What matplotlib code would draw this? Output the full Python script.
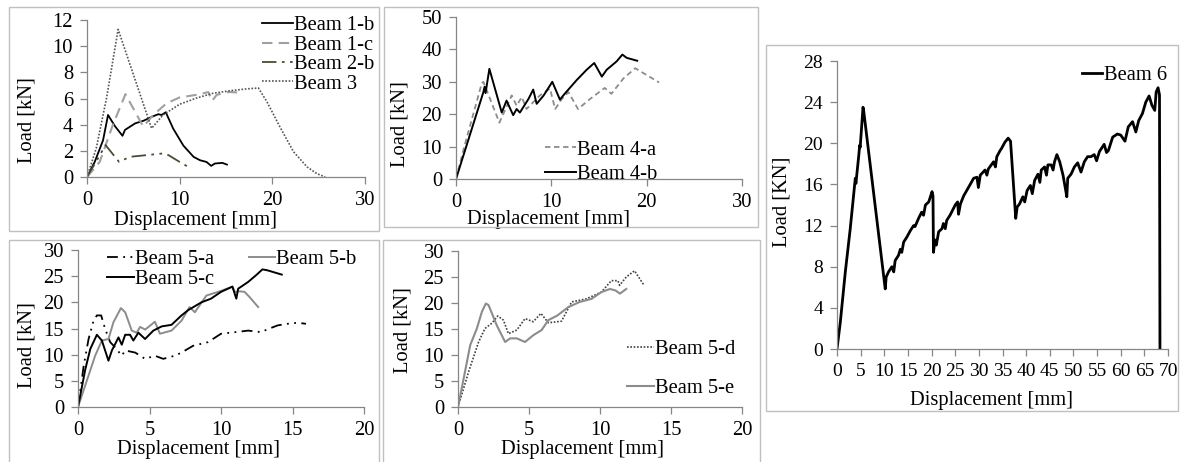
import numpy as np
import matplotlib
matplotlib.use("Agg")
import matplotlib.pyplot as plt
from matplotlib.patches import Rectangle

plt.rcParams['font.family'] = ['Liberation Serif', 'DejaVu Serif']

W, H = 1182, 462
FS = 14.8
SPINE = '#868686'

# ---------------- data ----------------
# panel 1
b1b_x = [0, 0.83, 1.73, 2.27, 3.0, 3.83, 4.1, 5.2, 6.1, 7.0, 7.7, 8.05, 8.5, 9.3, 10.4, 11.5, 12.2, 12.9, 13.4, 13.8, 14.6, 15.1]
b1b_y = [0, 1.15, 2.8, 4.74, 3.9, 3.15, 3.6, 4.1, 4.3, 4.6, 4.8, 4.74, 4.95, 3.7, 2.4, 1.54, 1.28, 1.15, 0.85, 1.03, 1.08, 0.95]
b1c_x = [0, 1.37, 2.8, 4.15, 6.07, 7.15, 8.6, 10.0, 11.8, 13.1, 13.5, 14.0, 15.3, 16.5]
b1c_y = [0, 1.15, 4.0, 6.33, 3.85, 4.74, 5.64, 6.08, 6.28, 6.49, 5.82, 6.28, 6.5, 6.45]
b2b_x = [0, 1.0, 2.0, 3.47, 4.6, 6.4, 8.2, 8.8, 10.0, 11.1]
b2b_y = [0, 1.2, 2.44, 1.15, 1.54, 1.67, 1.8, 1.67, 1.15, 0.7]
b3_x = [0, 1.0, 2.1, 3.36, 6.97, 8.2, 10.0, 11.8, 13.6, 15.5, 17.3, 18.5, 19.4, 20.9, 22.3, 23.75, 24.8, 25.7]
b3_y = [0, 2.2, 6.0, 11.28, 3.72, 4.74, 5.56, 6.03, 6.4, 6.6, 6.74, 6.8, 5.77, 3.72, 1.92, 0.77, 0.26, 0.0]

# panel 2
b4a_x = [0, 0.77, 2.7, 2.87, 4.55, 5.84, 6.36, 6.9, 7.4, 8.8, 9.86, 10.4, 11.1, 11.8, 12.8, 14.06, 15.6, 16.3, 17.55, 18.8, 21.3]
b4a_y = [0, 8.9, 29.5, 30, 17.4, 25.8, 22.6, 25.3, 21.6, 25.8, 27.9, 21.6, 24.7, 26.8, 21.6, 24.7, 28.1, 26.3, 31.0, 34.2, 29.8]
b4b_x = [0, 2.87, 3.0, 3.1, 3.5, 4.8, 5.3, 6.0, 6.36, 6.7, 7.6, 8.1, 8.46, 9.2, 10.1, 10.9, 11.4, 12.65, 13.7, 14.5, 15.3, 15.8, 16.85, 17.45, 17.9, 19.0]
b4b_y = [0, 26.8, 28.5, 26.5, 34.0, 20.5, 24.2, 19.7, 21.6, 20.5, 24.7, 27.6, 23.2, 25.8, 30.0, 24.5, 26.3, 30.5, 33.7, 35.8, 31.6, 33.7, 36.3, 38.4, 37.4, 36.5]

# panel 3
b5a_x = [0, 0.4, 0.74, 1.09, 1.32, 1.62, 1.9, 2.25, 2.6, 3.06, 3.3, 4.0, 4.69, 5.38, 5.96, 6.77, 7.24, 8.05, 9.1, 10.0, 11.0, 11.9, 12.8, 13.3, 13.97, 14.66, 15.36, 15.94]
b5a_y = [0, 7.9, 13.0, 16.5, 17.5, 17.5, 14.9, 12.4, 11.4, 9.8, 10.8, 10.4, 9.2, 9.8, 9.2, 9.8, 10.4, 11.7, 12.4, 14.0, 14.3, 14.6, 14.3, 14.9, 15.6, 15.9, 16.1, 15.9]
b5b_x = [0, 1.2, 1.67, 2.13, 2.48, 3.0, 3.3, 3.76, 4.1, 4.34, 4.7, 5.38, 5.73, 6.54, 7.24, 7.8, 8.17, 8.98, 9.8, 10.8, 10.95, 11.3, 11.65, 12.0, 12.6]
b5b_y = [0, 9.8, 12.7, 13.0, 16.2, 18.9, 18.1, 14.6, 14.2, 15.3, 14.8, 16.3, 14.0, 14.6, 16.5, 19.1, 18.1, 21.3, 22.0, 23.0, 22.0, 22.1, 22.0, 21.0, 19.1]
b5c_x = [0, 0.51, 0.86, 1.32, 1.67, 2.13, 2.37, 2.83, 3.06, 3.3, 3.64, 3.87, 4.22, 4.69, 5.27, 5.85, 6.54, 7.24, 7.7, 8.63, 9.3, 10.0, 10.8, 11.07, 11.2, 11.9, 12.46, 12.9, 13.27, 14.25]
b5c_y = [0, 7.2, 11.1, 13.8, 12.7, 8.85, 10.8, 13.3, 11.9, 13.8, 13.8, 12.7, 14.2, 13.0, 14.6, 15.4, 15.7, 17.5, 18.5, 20.0, 20.7, 22.0, 23.0, 20.7, 22.6, 23.9, 25.2, 26.3, 26.1, 25.3]

# panel 4
b5d_x = [0, 0.75, 1.45, 1.9, 2.38, 2.8, 3.2, 3.55, 4.14, 4.72, 5.3, 5.84, 6.36, 7.29, 8.0, 9.04, 10.1, 10.8, 11.26, 11.38, 11.85, 12.43, 13.1]
b5d_y = [0, 6.8, 12.5, 15.1, 16.1, 17.5, 16.7, 14.1, 14.8, 17.0, 16.4, 18.0, 16.2, 16.5, 20.2, 20.8, 22.1, 24.3, 24.3, 23.4, 25.0, 26.2, 23.4]
b5e_x = [0, 0.4, 0.86, 1.33, 1.68, 1.96, 2.15, 2.73, 3.32, 3.67, 4.14, 4.72, 5.3, 5.89, 6.36, 7.0, 7.76, 8.57, 9.4, 10.1, 10.7, 11.1, 11.4, 11.85]
b5e_y = [0, 5.5, 11.9, 15.1, 18.3, 19.9, 19.6, 15.7, 12.5, 13.2, 13.2, 12.5, 13.8, 14.8, 16.7, 17.6, 19.2, 20.2, 20.8, 22.1, 22.7, 22.4, 21.8, 22.7]

# panel 5
b6_x = [0, 0.7, 1.76, 2.8, 3.5, 3.87, 4.0, 4.6, 4.8, 4.9, 5.5, 5.63, 10.2, 10.4, 10.9, 11.6, 12.0, 12.3, 13.0, 13.4, 13.7, 14.1,
        14.8, 15.5, 16.2, 16.5, 17.25, 17.9, 18.3, 18.7, 19.4, 20.1, 20.3, 20.4, 20.7, 21.0, 21.5, 22.2, 22.5, 22.9, 23.2,
        23.9, 25.0, 25.5, 25.7, 26.1, 26.8, 27.8, 28.9, 29.6, 29.9, 30.3, 31.3, 31.7, 32.0, 33.1, 33.5, 33.8, 34.5,
        34.8, 35.5, 36.2, 36.7, 37.8, 38.1, 38.6, 39.3, 39.7, 40.2, 40.9, 41.3, 41.8, 42.5, 42.9, 43.2, 43.9, 44.3, 44.6,
        45.3, 45.7, 46.0, 46.5, 47.1, 47.8, 48.3, 48.6, 48.8, 49.5, 50.2, 50.9, 51.6, 52.3, 53.0, 53.7, 54.4, 54.9, 55.5,
        56.5, 57.0, 57.4, 58.3, 59.3, 60.0, 60.9, 61.6, 62.5, 63.2, 63.8, 64.6, 65.3, 66.0, 66.6, 67.2, 67.5, 67.9, 68.2, 68.3]
b6_y = [0, 2.6, 7.5, 11.7, 14.9, 16.6, 16.1, 18.8, 19.8, 19.6, 23.5, 23.2, 5.84, 7.0, 7.5, 8.0, 7.5, 8.6, 9.1, 9.7, 9.4, 10.4,
        10.9, 11.5, 12.0, 11.9, 12.7, 13.3, 13.0, 14.0, 14.3, 15.3, 14.9, 9.4, 10.6, 10.1, 11.4, 11.7, 12.2, 11.7, 12.5,
        13.0, 14.0, 14.3, 13.1, 14.1, 14.9, 15.7, 16.6, 16.7, 15.7, 16.9, 17.4, 16.9, 17.5, 18.2, 17.7, 18.7, 19.3,
        19.5, 20.1, 20.5, 20.2, 12.7, 13.8, 14.1, 14.8, 14.3, 15.4, 15.9, 15.1, 16.4, 17.0, 16.2, 17.4, 17.7, 16.9, 17.9,
        17.9, 17.4, 18.2, 18.9, 18.2, 16.9, 15.6, 14.8, 16.6, 17.0, 17.7, 18.1, 17.2, 18.2, 18.7, 18.7, 18.9, 18.3, 19.2,
        19.9, 19.1, 19.3, 20.6, 20.9, 20.8, 20.2, 21.6, 22.1, 21.1, 22.2, 22.9, 24.0, 24.6, 23.7, 23.2, 25.0, 25.4, 24.7, 0.0]


def px_axes(l, r, t, b):
    return [l / W, 1 - b / H, (r - l) / W, (b - t) / H]


def frame(fig, l, r, t, b):
    fig.add_artist(Rectangle((l / W, 1 - b / H), (r - l) / W, (b - t) / H,
                             transform=fig.transFigure, fill=False,
                             edgecolor='#c0c0c0', linewidth=1.0))


def style(ax, xmax, xstep, ymax, ystep, ylabel, xl, yl, tfs=FS):
    ax.set_xlim(0, xmax)
    ax.set_ylim(0, ymax)
    ax.set_xticks(np.arange(0, xmax + 0.01, xstep))
    ax.set_yticks(np.arange(0, ymax + 0.01, ystep))
    for s in ['top', 'right']:
        ax.spines[s].set_visible(False)
    for s in ['left', 'bottom']:
        ax.spines[s].set_color(SPINE)
        ax.spines[s].set_linewidth(0.9)
    ax.tick_params(direction='out', length=5, width=0.9, color=SPINE,
                   labelsize=tfs, pad=5)
    ax.set_xlabel('Displacement [mm]', fontsize=FS)
    ax.set_ylabel(ylabel, fontsize=FS)
    ax.xaxis.set_label_coords(*xl)
    ax.yaxis.set_label_coords(*yl)
    ax.xaxis.label.set_va('center')
    ax.yaxis.label.set_va('center')
    ax.yaxis.label.set_ha('center')


fig = plt.figure(figsize=(W / 100, H / 100), dpi=100)

frame(fig, 9, 379, 7, 231)
frame(fig, 384, 758, 7, 227)
frame(fig, 9, 379, 240, 466)
frame(fig, 383, 760, 240, 466)
frame(fig, 766, 1178, 45, 411)

leg_kw = dict(frameon=False, fontsize=FS, borderpad=0, borderaxespad=0,
              handletextpad=0.05, loc='upper left')

# ---- panel 1 ----
ax1 = fig.add_axes(px_axes(87, 365, 20, 177))
ax1.plot(b1b_x, b1b_y, color='black', lw=1.3, label='Beam 1-b')
ax1.plot(b1c_x, b1c_y, color='#a0a0a0', lw=1.5, dashes=(5, 3), label='Beam 1-c')
ax1.plot(b2b_x, b2b_y, color='#4b4b35', lw=1.3, dashes=(8, 3, 1.5, 3, 1.5, 3), label='Beam 2-b')
ax1.plot(b3_x, b3_y, color='#555555', lw=1.2, dashes=(1, 1), label='Beam 3')
style(ax1, 30, 10, 12, 2, 'Load [kN]', (0.39, -0.28), (-0.216, 0.363))
ax1.legend(bbox_to_anchor=(0.63, 1.025), labelspacing=0.0, handlelength=1.5, **leg_kw)

# ---- panel 2 ----
ax2 = fig.add_axes(px_axes(456, 742, 17, 179))
ax2.plot(b4a_x, b4a_y, color='#8c8c8c', lw=1.3, dashes=(3, 2), label='Beam 4-a')
ax2.plot(b4b_x, b4b_y, color='black', lw=1.4, label='Beam 4-b')
style(ax2, 30, 10, 50, 10, 'Load [kN]', (0.325, -0.25), (-0.196, 0.34))
ax2.legend(bbox_to_anchor=(0.311, 0.24), labelspacing=0.25, handlelength=1.5, **leg_kw)

# ---- panel 3 ----
ax3 = fig.add_axes(px_axes(78, 364, 250, 407))
l5a, = ax3.plot(b5a_x, b5a_y, color='black', lw=1.3, dashes=(6, 3, 1, 3, 1, 3), label='Beam 5-a')
l5b, = ax3.plot(b5b_x, b5b_y, color='#8c8c8c', lw=1.4, label='Beam 5-b')
l5c, = ax3.plot(b5c_x, b5c_y, color='black', lw=1.4, label='Beam 5-c')
style(ax3, 20, 5, 30, 5, 'Load [kN]', (0.423, -0.27), (-0.178, 0.395))
ax3.legend(handles=[l5a, l5c, l5b], ncol=2, bbox_to_anchor=(0.101, 1.0),
           labelspacing=0.0, handlelength=1.3, columnspacing=1.7, **leg_kw)

# ---- panel 4 ----
ax4 = fig.add_axes(px_axes(458, 742, 251, 407))
ax4.plot(b5d_x, b5d_y, color='#404040', lw=1.2, dashes=(1, 1), label='Beam 5-d')
ax4.plot(b5e_x, b5e_y, color='#8c8c8c', lw=1.5, label='Beam 5-e')
style(ax4, 20, 5, 30, 5, 'Load [kN]', (0.437, -0.27), (-0.194, 0.49))
ax4.legend(bbox_to_anchor=(0.595, 0.43), labelspacing=0.95, handlelength=1.3, **leg_kw)

# ---- panel 5 ----
ax5 = fig.add_axes(px_axes(837, 1168, 61, 349))
ax5.plot(b6_x, b6_y, color='black', lw=2.0, label='Beam 6')
style(ax5, 70, 5, 28, 4, 'Load [KN]', (0.468, -0.18), (-0.166, 0.51), tfs=14)
ax5.legend(bbox_to_anchor=(0.74, 0.985), handlelength=1.0, **leg_kw)

fig.savefig('out.png', dpi=100)
